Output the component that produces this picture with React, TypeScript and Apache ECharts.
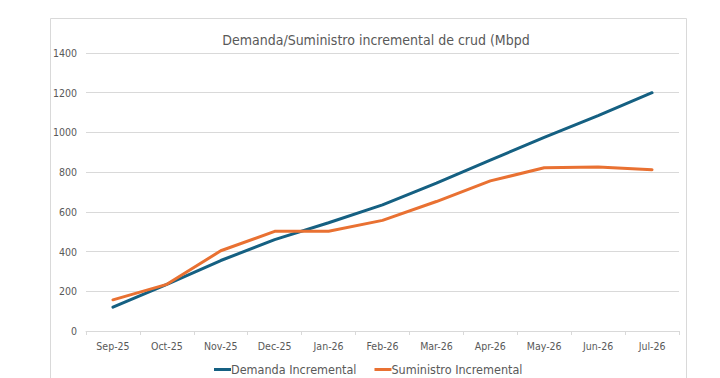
import React, { useEffect, useRef } from "react";
import * as echarts from "echarts";

const categories = ["Sep-25", "Oct-25", "Nov-25", "Dec-25", "Jan-26", "Feb-26", "Mar-26", "Apr-26", "May-26", "Jun-26", "Jul-26"];
const demanda = [120, 235, 355, 460, 545, 635, 745, 860, 975, 1085, 1200];
const suministro = [157, 235, 404, 502, 502, 557, 652, 756, 822, 826, 812];
const seriesNames = ["Demanda Incremental", "Suministro Incremental"];
const titleText = "Demanda/Suministro incremental de crud (Mbpd";

const FONT = "'Liberation Sans Narrow', 'DejaVu Sans Condensed', 'Roboto', sans-serif";

export default function App() {
  const ref = useRef<HTMLDivElement>(null);
  useEffect(() => {
    if (!ref.current) return;
    const chart = echarts.init(ref.current, null, { renderer: "svg" });
    chart.setOption({
      animation: false,
      backgroundColor: "#ffffff",
      title: {
        text: titleText,
        left: 371,
        top: 28,
        textAlign: "center",
        textStyle: { fontFamily: FONT, fontSize: 14, fontWeight: "normal", color: "#595959" },
      },
      graphic: [
        {
          type: "rect",
          shape: { x: 50.5, y: 18.5, width: 636, height: 380 },
          style: { fill: "none", stroke: "#d9d9d9", lineWidth: 1 },
          z: -1,
        },
      ],
      legend: {
        data: seriesNames,
        top: 358,
        left: 209,
        itemWidth: 17,
        itemHeight: 3,
        itemGap: 18,
        icon: "rect",
        textStyle: { fontFamily: FONT, fontSize: 12.5, color: "#595959", padding: [0, 0, 0, -5] },
      },
      grid: { left: 86, right: 41, top: 53, bottom: 47, containLabel: false },
      xAxis: {
        type: "category",
        data: categories,
        boundaryGap: true,
        axisLine: { lineStyle: { color: "#d9d9d9" } },
        axisTick: { show: true, inside: false, length: 4, lineStyle: { color: "#d9d9d9" } },
        axisLabel: { fontFamily: FONT, fontSize: 10.5, color: "#595959", margin: 9 },
      },
      yAxis: {
        type: "value",
        min: 0,
        max: 1400,
        interval: 200,
        axisLine: { show: false },
        axisTick: { show: false },
        splitLine: { lineStyle: { color: "#d9d9d9" } },
        axisLabel: {
          fontFamily: FONT,
          fontSize: 10.5,
          color: "#595959",
          margin: 9,
          formatter: (v: number) => String(v),
        },
      },
      series: [
        {
          name: seriesNames[0],
          type: "line",
          data: demanda,
          symbol: "none",
          lineStyle: { color: "#156082", width: 3, cap: "round" },
          itemStyle: { color: "#156082" },
          z: 2,
        },
        {
          name: seriesNames[1],
          type: "line",
          data: suministro,
          symbol: "none",
          lineStyle: { color: "#E97132", width: 3, cap: "round" },
          itemStyle: { color: "#E97132" },
          z: 3,
        },
      ],
    });
    return () => chart.dispose();
  }, []);
  return <div ref={ref} style={{ width: 720, height: 378, position: "absolute", left: 0, top: 0 }} />;
}
